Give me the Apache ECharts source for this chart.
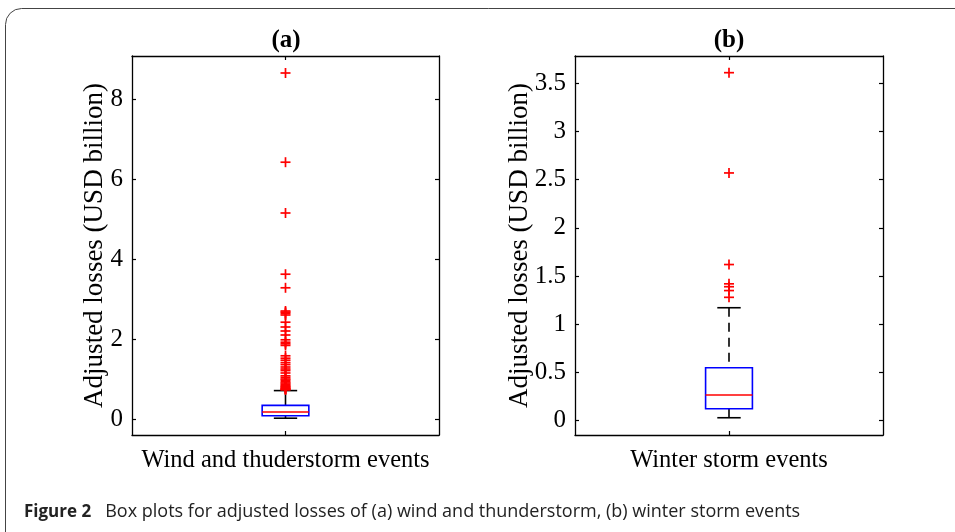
<!DOCTYPE html>
<html><head><meta charset="utf-8">
<script src="https://cdn.jsdelivr.net/npm/echarts@6/dist/echarts.min.js"></script>
<style>html,body{margin:0;padding:0;background:#fff}#c{width:955px;height:532px}</style>
</head><body><div id="c"></div>
<script>
const categoriesA = ['Wind and thuderstorm events'];
const categoriesB = ['Winter storm events'];
// [lower whisker, Q1, median, Q3, upper whisker]
const boxA = [0.02, 0.08, 0.175, 0.34, 0.71];
const boxB = [0.031, 0.125, 0.267, 0.55, 1.172];
const outliersA = [8.65, 6.42, 5.15, 3.62, 3.28, 2.70, 2.67, 2.64, 2.60, 2.42, 2.30, 2.20, 2.10,
  1.98, 1.92, 1.88, 1.84, 1.58, 1.52, 1.47, 1.41, 1.36, 1.30, 1.25, 1.21, 1.15, 1.08, 1.04,
  1.00, 0.97, 0.93, 0.90, 0.87, 0.84, 0.82, 0.80, 0.78, 0.76, 0.75, 0.74, 0.73];
const outliersB = [3.61, 2.57, 1.62, 1.42, 1.39, 1.35, 1.28];
const ticksA = [0, 2, 4, 6, 8];
const ticksB = [0, 0.5, 1, 1.5, 2, 2.5, 3, 3.5];
const rangeA = [-0.4, 9.075];
const rangeB = [-0.148, 3.783];
const yName = 'Adjusted losses (USD billion)';
const titles = ['(a)', '(b)'];

const SERIF = 'Liberation Serif, Times New Roman, serif';
const axisLineStyle = { color: '#000', width: 1.3 };

function makeBoxRender(dash) {
  return function (params, api) {
    const x = api.value(0);
    const lo = api.coord([x, api.value(1)]);
    const q1 = api.coord([x, api.value(2)]);
    const md = api.coord([x, api.value(3)]);
    const q3 = api.coord([x, api.value(4)]);
    const hi = api.coord([x, api.value(5)]);
    const band = api.size([1, 0])[0];
    const bw = band * 0.152, cw = band * 0.076;
    const cx = md[0];
    const wst = { stroke: '#000', lineWidth: 1.6, lineDash: dash };
    const cst = { stroke: '#000', lineWidth: 1.6 };
    return { type: 'group', children: [
      { type: 'line', shape: { x1: cx, y1: hi[1], x2: cx, y2: q3[1] }, style: wst },
      { type: 'line', shape: { x1: cx, y1: q1[1], x2: cx, y2: lo[1] }, style: wst },
      { type: 'line', shape: { x1: cx - cw / 2, y1: hi[1], x2: cx + cw / 2, y2: hi[1] }, style: cst },
      { type: 'line', shape: { x1: cx - cw / 2, y1: lo[1], x2: cx + cw / 2, y2: lo[1] }, style: cst },
      { type: 'rect', shape: { x: cx - bw / 2, y: q3[1], width: bw, height: q1[1] - q3[1] },
        style: { fill: 'none', stroke: '#0000ff', lineWidth: 1.6 } },
      { type: 'line', shape: { x1: cx - bw / 2, y1: md[1], x2: cx + bw / 2, y2: md[1] },
        style: { stroke: '#ff0000', lineWidth: 1.5 } }
    ]};
  };
}
function crossRender(params, api) {
  const p = api.coord([api.value(0), api.value(1)]);
  const h = 5;
  const st = { stroke: '#ff0000', lineWidth: 1.7 };
  return { type: 'group', children: [
    { type: 'line', shape: { x1: p[0] - h, y1: p[1], x2: p[0] + h, y2: p[1] }, style: st },
    { type: 'line', shape: { x1: p[0], y1: p[1] - h, x2: p[0], y2: p[1] + h }, style: st }
  ]};
}

function xAxes(grid, cats, top) {
  return {
    gridIndex: grid, type: 'category', data: cats, position: top ? 'top' : 'bottom',
    axisLine: { show: true, onZero: false, lineStyle: axisLineStyle },
    axisTick: { show: true, inside: true, alignWithLabel: true, length: 4, lineStyle: { color: '#000', width: 1.2 } },
    axisLabel: top ? { show: false } : { color: '#000', fontFamily: SERIF, fontSize: 24.5, margin: 13 },
    splitLine: { show: false }
  };
}
function yAxes(grid, range, ticks, right, nameGap) {
  const a = {
    gridIndex: grid, type: 'value', min: range[0], max: range[1], position: right ? 'right' : 'left',
    axisLine: { show: true, onZero: false, lineStyle: axisLineStyle },
    axisTick: { show: true, inside: true, length: 4, customValues: ticks, lineStyle: { color: '#000', width: 1.2 } },
    axisLabel: right ? { show: false } : { customValues: ticks, color: '#000', fontFamily: SERIF, fontSize: 25, margin: 9 },
    splitLine: { show: false }
  };
  if (!right) {
    a.name = yName; a.nameLocation = 'middle'; a.nameGap = nameGap; a.nameMoveOverlap = false;
    a.nameTextStyle = { color: '#000', fontFamily: SERIF, fontSize: 27 };
  }
  return a;
}

const chart = echarts.init(document.getElementById('c'));
chart.setOption({
  animation: false,
  backgroundColor: '#fff',
  grid: [
    { left: 132, top: 56, width: 307, height: 379, outerBoundsMode: 'none' },
    { left: 575, top: 56, width: 308, height: 379, outerBoundsMode: 'none' }
  ],
  xAxis: [xAxes(0, categoriesA, false), xAxes(0, categoriesA, true), xAxes(1, categoriesB, false), xAxes(1, categoriesB, true)],
  yAxis: [yAxes(0, rangeA, ticksA, false, 24), yAxes(0, rangeA, ticksA, true), yAxes(1, rangeB, ticksB, false, 42), yAxes(1, rangeB, ticksB, true)],
  series: [
    { type: 'custom', xAxisIndex: 0, yAxisIndex: 0, renderItem: makeBoxRender(null), data: [[0].concat(boxA)], clip: false },
    { type: 'custom', xAxisIndex: 0, yAxisIndex: 0, renderItem: crossRender, data: outliersA.map(v => [0, v]), clip: false },
    { type: 'custom', xAxisIndex: 2, yAxisIndex: 2, renderItem: makeBoxRender([9, 6]), data: [[0].concat(boxB)], clip: false },
    { type: 'custom', xAxisIndex: 2, yAxisIndex: 2, renderItem: crossRender, data: outliersB.map(v => [0, v]), clip: false }
  ],
  graphic: [
    { type: 'rect', shape: { x: 5.5, y: 8.5, width: 1000, height: 600, r: 16 }, style: { fill: 'none', stroke: '#444', lineWidth: 1 }, silent: true },
    { type: 'text', x: 286, y: 41, style: { text: titles[0], fontFamily: SERIF, fontWeight: 'bold', fontSize: 25, fill: '#000', textAlign: 'center', textVerticalAlign: 'middle' } },
    { type: 'text', x: 729, y: 41, style: { text: titles[1], fontFamily: SERIF, fontWeight: 'bold', fontSize: 25, fill: '#000', textAlign: 'center', textVerticalAlign: 'middle' } },
    { type: 'text', x: 24, y: 512, style: {
      text: '{b|Figure 2}   Box plots for adjusted losses of (a) wind and thunderstorm, (b) winter storm events',
      fontFamily: 'Open Sans', fontSize: 18, fill: '#222', textVerticalAlign: 'middle',
      rich: { b: { fontFamily: 'Open Sans', fontWeight: 'bold', fontSize: 17, fill: '#222' } } } }
  ]
});
</script></body></html>
